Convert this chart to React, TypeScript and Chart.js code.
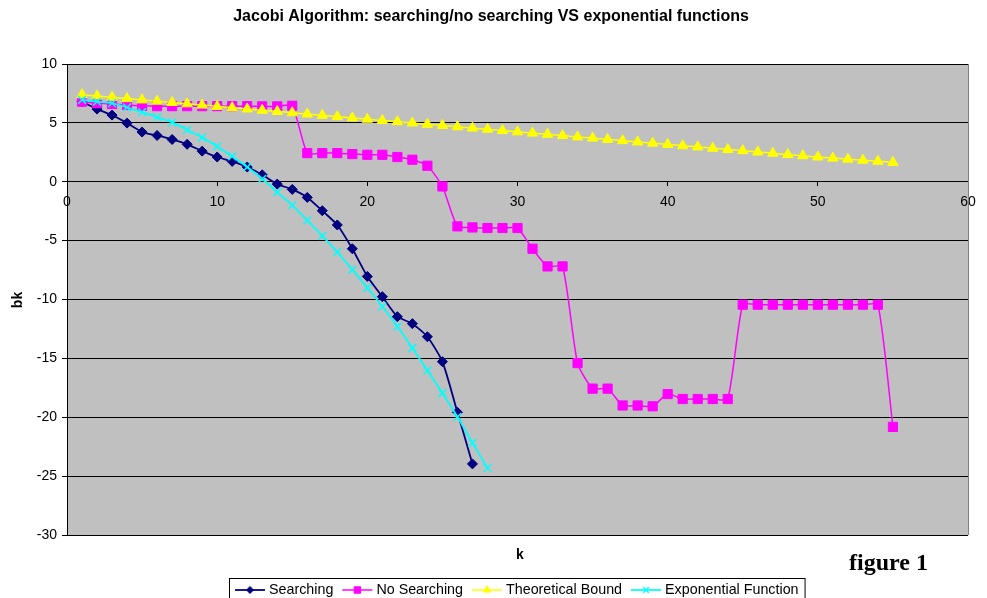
import React, { useEffect, useRef } from 'react';
import { Chart, registerables } from 'chart.js';
import { drawPoint } from 'chart.js/helpers';

Chart.register(...registerables);

const TITLE = 'Jacobi Algorithm: searching/no searching VS exponential functions';
const X_TITLE = 'k';
const Y_TITLE = 'bk';
const FIGURE_LABEL = 'figure 1';

const X_MIN = 0;
const X_MAX = 60;
const X_STEP = 10;
const Y_MIN = -30;
const Y_MAX = 10;
const Y_STEP = 5;

const seriesNames = ['Searching', 'No Searching', 'Theoretical Bound', 'Exponential Function'];

const kSearching = [1, 2, 3, 4, 5, 6, 7, 8, 9, 10, 11, 12, 13, 14, 15, 16, 17, 18, 19, 20, 21, 22, 23, 24, 25, 26, 27];
const searching = [6.8, 6.17, 5.66, 4.98, 4.22, 3.93, 3.59, 3.18, 2.6, 2.1, 1.73, 1.25, 0.59, -0.2, -0.65, -1.33, -2.46, -3.67, -5.69, -8.04, -9.76, -11.46, -12.05, -13.16, -15.28, -19.58, -23.96];

const kExponential = [1, 2, 3, 4, 5, 6, 7, 8, 9, 10, 11, 12, 13, 14, 15, 16, 17, 18, 19, 20, 21, 22, 23, 24, 25, 26, 27, 28];
const exponential = [6.96, 6.8, 6.68, 6.31, 5.91, 5.49, 5.04, 4.41, 3.76, 3.0, 2.15, 1.25, 0.25, -0.88, -1.98, -3.28, -4.6, -5.98, -7.47, -9.0, -10.6, -12.3, -14.12, -16.04, -17.94, -19.97, -22.18, -24.3];

const kLong = [1, 2, 3, 4, 5, 6, 7, 8, 9, 10, 11, 12, 13, 14, 15, 16, 17, 18, 19, 20, 21, 22, 23, 24, 25, 26, 27, 28, 29, 30, 31, 32, 33, 34, 35, 36, 37, 38, 39, 40, 41, 42, 43, 44, 45, 46, 47, 48, 49, 50, 51, 52, 53, 54, 55];
const noSearching = [6.8, 6.68, 6.6, 6.52, 6.45, 6.42, 6.42, 6.42, 6.42, 6.42, 6.42, 6.42, 6.4, 6.4, 6.45, 2.43, 2.43, 2.43, 2.35, 2.29, 2.29, 2.1, 1.87, 1.36, -0.4, -3.79, -3.88, -3.93, -3.93, -3.93, -5.69, -7.19, -7.19, -15.4, -17.57, -17.57, -19.0, -19.0, -19.07, -18.03, -18.45, -18.45, -18.45, -18.45, -10.44, -10.44, -10.44, -10.44, -10.44, -10.44, -10.44, -10.44, -10.44, -10.44, -20.82];
const theoretical = [7.39, 7.28, 7.17, 7.06, 6.95, 6.84, 6.73, 6.62, 6.51, 6.4, 6.29, 6.18, 6.07, 5.97, 5.86, 5.75, 5.64, 5.53, 5.42, 5.31, 5.2, 5.1, 4.99, 4.88, 4.78, 4.67, 4.56, 4.46, 4.35, 4.24, 4.13, 4.03, 3.92, 3.81, 3.71, 3.6, 3.49, 3.38, 3.28, 3.17, 3.06, 2.96, 2.85, 2.74, 2.64, 2.53, 2.42, 2.31, 2.21, 2.1, 2.01, 1.92, 1.83, 1.74, 1.64];

const SANS = '"Liberation Sans", Arial, Helvetica, sans-serif';
const SERIF = '"Liberation Serif", "Times New Roman", serif';

const toPoints = (xs: number[], ys: number[]) => xs.map((x, i) => ({ x, y: ys[i] }));

const decorPlugin = {
  id: 'decor',
  beforeDraw(chart: any) {
    const { ctx, chartArea: a, width, height } = chart;
    ctx.save();
    ctx.fillStyle = '#ffffff';
    ctx.fillRect(0, 0, width, height);
    ctx.fillStyle = '#C0C0C0';
    ctx.fillRect(a.left, a.top, a.right - a.left, a.bottom - a.top);
    ctx.restore();
  },
  afterDraw(chart: any) {
    const { ctx, chartArea: a } = chart;
    ctx.save();
    // right border of plot
    ctx.strokeStyle = '#808080';
    ctx.lineWidth = 1;
    ctx.beginPath();
    ctx.moveTo(Math.round(a.right) + 0.5, a.top);
    ctx.lineTo(Math.round(a.right) + 0.5, a.bottom);
    ctx.stroke();

    // title
    ctx.fillStyle = '#000';
    ctx.font = `bold 16px ${SANS}`;
    ctx.textAlign = 'center';
    ctx.textBaseline = 'middle';
    ctx.fillText(TITLE, 491, 17);

    // x title
    ctx.font = `bold 14px ${SANS}`;
    ctx.fillText(X_TITLE, 520, 555);

    // y title
    ctx.save();
    ctx.translate(18, 300);
    ctx.rotate(-Math.PI / 2);
    ctx.fillText(Y_TITLE, 0, 0);
    ctx.restore();

    // figure label
    ctx.font = `bold 24px ${SERIF}`;
    ctx.textAlign = 'left';
    ctx.textBaseline = 'alphabetic';
    ctx.fillText(FIGURE_LABEL, 849, 570);

    // legend
    const ly = 590;
    ctx.font = `14.3px ${SANS}`;
    ctx.textBaseline = 'middle';
    let x = 235;
    const datasets = chart.data.datasets;
    const items = datasets.map((d: any) => ({
      d,
      w: ctx.measureText(d.label).width,
    }));
    const total = items.reduce((s: number, it: any) => s + 30 + 4 + it.w + 9, 0) - 9;
    const boxL = 229;
    const boxR = x + total + 6;
    ctx.strokeStyle = '#000';
    ctx.lineWidth = 1;
    ctx.strokeRect(boxL + 0.5, 578.5, boxR - boxL, 20);
    items.forEach((it: any) => {
      const d = it.d;
      ctx.strokeStyle = d.borderColor;
      ctx.lineWidth = d.borderWidth;
      ctx.beginPath();
      ctx.moveTo(x, ly);
      ctx.lineTo(x + 30, ly);
      ctx.stroke();
      ctx.fillStyle = d.pointBackgroundColor;
      ctx.strokeStyle = d.pointBorderColor;
      ctx.lineWidth = d.pointBorderWidth;
      drawPoint(ctx, { pointStyle: d.pointStyle, radius: d.pointRadius * 0.7, rotation: 0, borderWidth: d.pointBorderWidth }, x + 15, ly);
      ctx.fillStyle = '#000';
      ctx.fillText(d.label, x + 34, ly + 0.5);
      x += 30 + 4 + it.w + 9;
    });
    ctx.restore();
  },
};

export default function App() {
  const ref = useRef<HTMLCanvasElement | null>(null);
  useEffect(() => {
    if (!ref.current) return;
    const chart = new Chart(ref.current, {
      type: 'line',
      data: {
        datasets: [
          {
            label: seriesNames[0],
            data: toPoints(kSearching, searching),
            borderColor: '#000080',
            backgroundColor: '#000080',
            pointBackgroundColor: '#000080',
            pointBorderColor: '#000080',
            borderWidth: 1.8,
            pointBorderWidth: 1,
            pointStyle: 'rectRot',
            pointRadius: 5,
            tension: 0.2,
            order: 4,
          },
          {
            label: seriesNames[1],
            data: toPoints(kLong, noSearching),
            borderColor: '#FF00FF',
            backgroundColor: '#FF00FF',
            pointBackgroundColor: '#FF00FF',
            pointBorderColor: '#FF00FF',
            borderWidth: 1.5,
            pointBorderWidth: 1,
            pointStyle: 'rect',
            pointRadius: 6.5,
            tension: 0.2,
            order: 3,
          },
          {
            label: seriesNames[2],
            data: toPoints(kLong, theoretical),
            borderColor: '#FFFF00',
            backgroundColor: '#FFFF00',
            pointBackgroundColor: '#FFFF00',
            pointBorderColor: '#FFFF00',
            borderWidth: 1.5,
            pointBorderWidth: 1,
            pointStyle: 'triangle',
            pointRadius: 6,
            tension: 0.2,
            order: 2,
          },
          {
            label: seriesNames[3],
            data: toPoints(kExponential, exponential),
            borderColor: '#00FFFF',
            backgroundColor: '#00FFFF',
            pointBackgroundColor: '#00FFFF',
            pointBorderColor: '#00FFFF',
            borderWidth: 1.8,
            pointBorderWidth: 1.5,
            pointStyle: 'crossRot',
            pointRadius: 5.5,
            tension: 0.2,
            order: 1,
          },
        ],
      },
      options: {
        responsive: false,
        animation: false,
        devicePixelRatio: 1,
        layout: { padding: { left: 0, top: 64, right: 19, bottom: 63 } },
        plugins: {
          legend: { display: false },
          title: { display: false },
          tooltip: { enabled: false },
        },
        scales: {
          x: {
            type: 'linear',
            position: { y: 0 } as any,
            min: X_MIN,
            max: X_MAX,
            ticks: { stepSize: X_STEP, color: '#000', font: { family: SANS, size: 14 }, padding: 8, maxRotation: 0 },
            grid: { drawOnChartArea: false, drawTicks: true, tickLength: 4, color: '#000' },
            border: { display: true, color: '#000', width: 1 },
          },
          y: {
            type: 'linear',
            min: Y_MIN,
            max: Y_MAX,
            ticks: { stepSize: Y_STEP, color: '#000', font: { family: SANS, size: 14 }, padding: 5 },
            grid: { color: '#000', lineWidth: 1, tickLength: 5, drawTicks: true },
            border: { display: true, color: '#000', width: 1 },
            afterFit: (s: any) => {
              s.width = 67;
            },
          },
        },
      },
      plugins: [decorPlugin],
    });
    return () => chart.destroy();
  }, []);
  return (
    <div style={{ position: 'absolute', left: 0, top: 0, width: 987, height: 598 }}>
      <canvas ref={ref} width={987} height={598} style={{ display: 'block' }} />
    </div>
  );
}
